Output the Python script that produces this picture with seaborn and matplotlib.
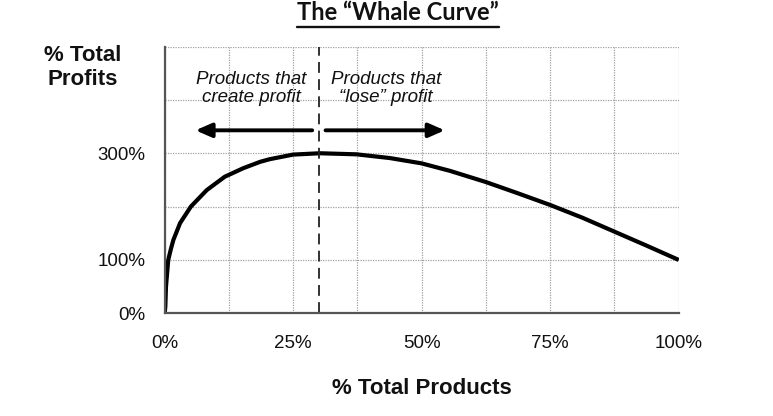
"""
The "Whale Curve" - cumulative profit vs cumulative share of products
"""

import matplotlib
matplotlib.use("Agg")
import matplotlib.pyplot as plt
from matplotlib.lines import Line2D
import pandas as pd
import seaborn as sns

# ─────────────────────────────────────────────
# Data
# ─────────────────────────────────────────────
pct_products = [0, 0.13, 0.26, 0.7, 1.2, 1.7, 3, 5.1, 8.2, 11.7, 15.3, 18.6,
                20.5, 25, 30.2, 37.3, 43.8, 50, 55.5, 62.5, 68.7, 75, 81.3,
                87.5, 93.7, 100]
pct_profits = [0, 12.5, 50, 100, 120, 137.5, 169, 200, 231, 256, 272, 284,
               289, 297.5, 300, 298, 291, 281, 267, 246, 225, 203, 179,
               153, 127, 100]

x_ticks = [0, 12.5, 25, 37.5, 50, 62.5, 75, 87.5, 100]
x_tick_labels = ["0%", "", "25%", "", "50%", "", "75%", "", "100%"]
y_ticks = [0, 100, 200, 300, 400, 500]
y_tick_labels = ["0%", "100%", "", "300%", "", ""]

split_at = 30  # products share where profit peaks
left_note = "Products that\ncreate profit"
right_note = "Products that\n\u201close\u201d profit"

df = pd.DataFrame({"products": pct_products, "profits": pct_profits})

sns.set_theme(style="whitegrid")
plt.rcParams["font.family"] = ["Liberation Sans", "DejaVu Sans"]

fig = plt.figure(figsize=(7.73, 4.16), dpi=100)
ax = fig.add_axes([0.213, 0.247, 0.665, 0.641])

sns.lineplot(data=df, x="products", y="profits", ax=ax, color="black",
             linewidth=3.0, solid_capstyle="butt", solid_joinstyle="round")

ax.axvline(split_at, color="#222222", linestyle=(0, (6, 3.5)), linewidth=1.3)

# arrows + notes
arrow_y = 343
arrow_style = dict(arrowstyle="-|>,head_length=0.8,head_width=0.35",
                   color="black", lw=2.8, shrinkA=0, shrinkB=0)
ax.annotate("", xy=(6, arrow_y), xytext=(split_at - 1.3, arrow_y),
            arrowprops=arrow_style)
ax.annotate("", xy=(54.5, arrow_y), xytext=(split_at + 1.3, arrow_y),
            arrowprops=arrow_style)
ax.text(16.8, 422, left_note, ha="center", va="center", fontsize=13.5,
        style="italic", linespacing=1.1, color="#111111")
ax.text(43.0, 422, right_note, ha="center", va="center", fontsize=13.5,
        style="italic", linespacing=1.1, color="#111111")

ax.set_xlim(0, 100)
ax.set_ylim(0, 500)
ax.set_xticks(x_ticks)
ax.set_xticklabels(x_tick_labels)
ax.set_yticks(y_ticks)
ax.set_yticklabels(y_tick_labels)
ax.tick_params(axis="x", length=0, pad=16, labelsize=13.5, labelcolor="#111111")
ax.tick_params(axis="y", length=0, pad=14, labelsize=13.5, labelcolor="#111111")
ax.set_xlabel("")
ax.set_ylabel("")

ax.grid(True, color="#a0a0a0", linestyle=(0, (1, 1)), linewidth=0.9)
ax.set_facecolor("white")
for side in ["top", "right"]:
    ax.spines[side].set_visible(False)
for side in ["left", "bottom"]:
    ax.spines[side].set_color("#555555")
    ax.spines[side].set_linewidth(1.6)

# axis titles placed like the original slide
fig.text(83 / 773, 1 - 45 / 416, "% Total\nProfits", ha="center", va="top",
         fontsize=16, fontweight="bold", linespacing=1.2, color="#111111")
fig.text(422 / 773, 1 - 389 / 416, "% Total Products", ha="center", va="center",
         fontsize=16, fontweight="bold", color="#111111")

title = fig.text(398 / 773, 1 - 13 / 416, "The \u201cWhale Curve\u201d",
                 ha="center", va="center", fontsize=17, fontweight="bold",
                 family=["Lato", "DejaVu Sans"], color="#111111")

# underline the title
fig.canvas.draw()
bb = title.get_window_extent().transformed(fig.transFigure.inverted())
uy = 1 - 26.5 / 416
fig.add_artist(Line2D([bb.x0, bb.x1], [uy, uy], transform=fig.transFigure,
                      color="#111111", linewidth=1.7))

fig.savefig("out.png", dpi=100, facecolor="white")
plt.close(fig)
